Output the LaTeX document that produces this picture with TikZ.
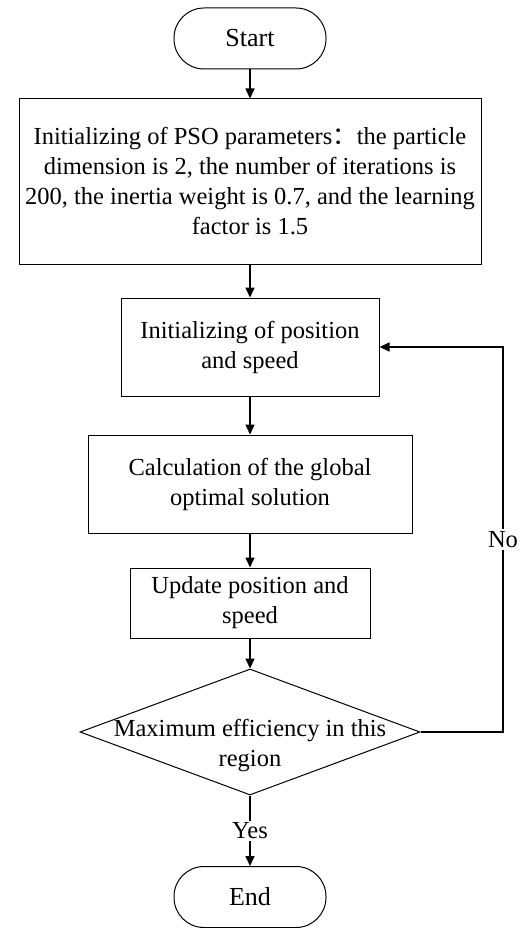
\documentclass[tikz,border=0pt]{standalone}
\usepackage{fontspec}
\setmainfont{Liberation Serif}
\newfontfamily\cjkfont{Noto Sans CJK SC}
\usetikzlibrary{shapes.geometric,arrows.meta}
\begin{document}
\begin{tikzpicture}[x=1pt,y=-1pt,
  txt/.style={font=\fontsize{24.5}{30}\selectfont, align=center},
  procbox/.style={txt, draw, line width=1pt, inner sep=0pt},
  termbox/.style={draw, line width=1pt, rounded corners=30pt, inner sep=0pt,
     font=\fontsize{26}{30}\selectfont, minimum width=152, minimum height=61},
  decbox/.style={draw, diamond, line width=1pt, inner sep=0pt},
  arr/.style={line width=1.6pt, -{Triangle[length=10pt,width=9pt]}},
  lbl/.style={txt, fill=white, inner sep=2pt}]
\useasboundingbox (0,0) rectangle (519,928);
\node[termbox] (start) at (250,38.5) {Start};
\node[procbox, minimum width=462, minimum height=165] (params) at (250,181.5)
  {Initializing of PSO parameters{\cjkfont ：}the particle\\
   dimension is 2, the number of iterations is\\
   200, the inertia weight is 0.7, and the learning\\
   factor is 1.5};
\node[procbox, minimum width=258, minimum height=98] (init) at (250,347)
  {Initializing of position\\and speed};
\node[procbox, minimum width=324, minimum height=98] (calc) at (250,484)
  {Calculation of the global\\optimal solution};
\node[procbox, minimum width=240, minimum height=70] (upd) at (250,603)
  {Update position and\\speed};
\node[decbox, minimum width=340, minimum height=126] (dec) at (250,732) {};
\node[txt] (dectext) at (250,746) {Maximum efficiency in this\\region};
\node[termbox] (end) at (250,897) {End};
\coordinate (c1) at (503,732);
\coordinate (c2) at (503,347);
\draw[arr] (start) -- (params);
\draw[arr] (params) -- (init);
\draw[arr] (init) -- (calc);
\draw[arr] (calc) -- (upd);
\draw[arr] (upd) -- (dec.north);
\draw[arr] (dec.south) -- node[lbl] (yes) {Yes} (end);
\draw[arr] (dec.east) -- (c1) -- node[lbl] (no) {No} (c2) -- (init.east);
\end{tikzpicture}
\end{document}
